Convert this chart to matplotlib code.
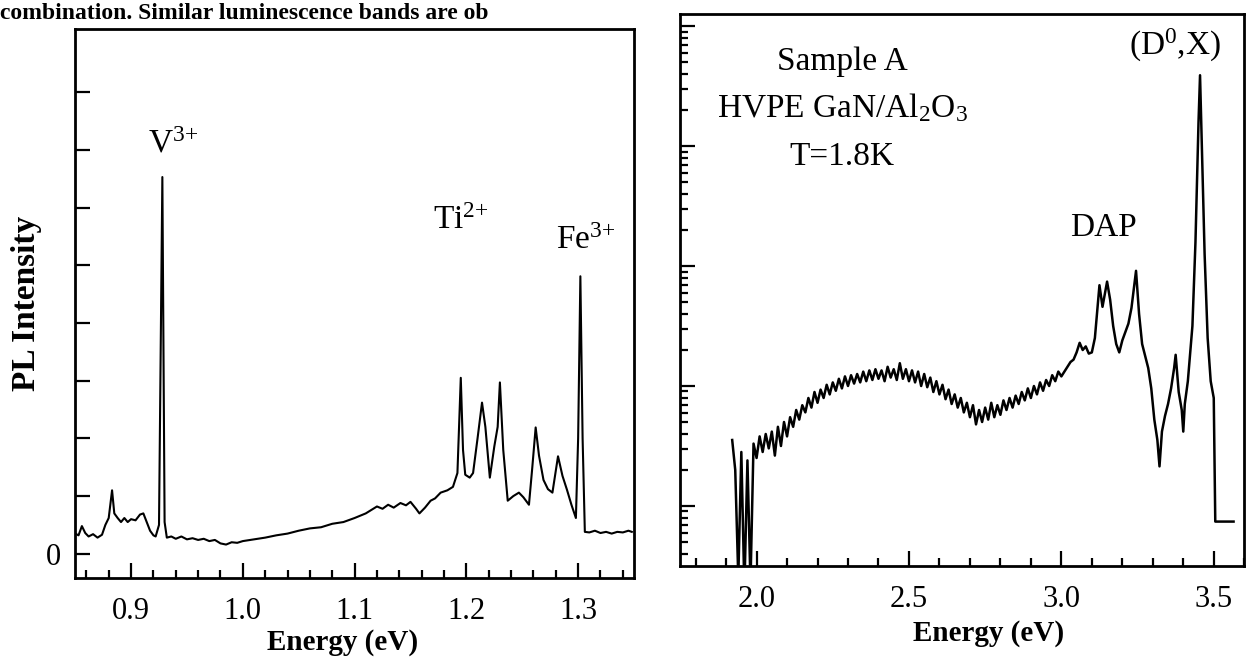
import numpy as np
import matplotlib
matplotlib.use("Agg")
import matplotlib.pyplot as plt
from matplotlib.ticker import LogLocator, MultipleLocator, NullFormatter

plt.rcParams['font.family'] = ['Liberation Serif', 'DejaVu Serif']
plt.rcParams['mathtext.fontset'] = 'custom'
plt.rcParams['mathtext.rm'] = 'Liberation Serif'
plt.rcParams['mathtext.it'] = 'Liberation Serif:italic'

# left panel: near-IR PL, transition-metal lines (arb. units, 0 = labelled tick)
e_left = [0.850, 0.853, 0.856, 0.859, 0.862, 0.866, 0.870, 0.874, 0.877, 0.880,
          0.883, 0.885, 0.888, 0.891, 0.894, 0.897, 0.900, 0.904, 0.908, 0.911,
          0.914, 0.917, 0.920, 0.922, 0.925, 0.928, 0.930, 0.932, 0.936, 0.940,
          0.945, 0.950, 0.955, 0.960, 0.965, 0.970, 0.975, 0.980, 0.985, 0.990,
          0.995, 1.000, 1.010, 1.020, 1.030, 1.040, 1.050, 1.060, 1.070, 1.080,
          1.090, 1.100, 1.110, 1.120, 1.125, 1.130, 1.135, 1.141, 1.146, 1.150,
          1.155, 1.158, 1.163, 1.168, 1.172, 1.177, 1.183, 1.188, 1.192, 1.195,
          1.197, 1.199, 1.203, 1.206, 1.210, 1.214, 1.217, 1.221, 1.225, 1.228,
          1.230, 1.233, 1.237, 1.242, 1.247, 1.251, 1.256, 1.259, 1.262, 1.265,
          1.269, 1.273, 1.277, 1.282, 1.286, 1.290, 1.294, 1.298, 1.300, 1.302,
          1.304, 1.306, 1.310, 1.315, 1.320, 1.325, 1.330, 1.335, 1.340, 1.345,
          1.348]
pl_left = [0.35, 0.32, 0.48, 0.36, 0.30, 0.34, 0.28, 0.33, 0.50, 0.62,
           1.10, 0.70, 0.62, 0.55, 0.62, 0.55, 0.60, 0.58, 0.68, 0.70,
           0.55, 0.40, 0.32, 0.30, 0.50, 6.53, 0.55, 0.28, 0.30, 0.26,
           0.30, 0.25, 0.27, 0.24, 0.26, 0.22, 0.24, 0.18, 0.16, 0.20,
           0.19, 0.22, 0.25, 0.28, 0.32, 0.35, 0.40, 0.44, 0.46, 0.52,
           0.55, 0.62, 0.70, 0.82, 0.78, 0.85, 0.80, 0.88, 0.84, 0.90,
           0.78, 0.70, 0.80, 0.92, 0.96, 1.06, 1.10, 1.16, 1.40, 3.05,
           1.80, 1.37, 1.32, 1.40, 2.00, 2.62, 2.20, 1.32, 1.86, 2.20,
           2.97, 1.80, 0.92, 1.00, 1.06, 0.98, 0.85, 1.50, 2.19, 1.70,
           1.28, 1.12, 1.06, 1.69, 1.35, 1.11, 0.85, 0.62, 2.00, 4.81,
           2.00, 0.38, 0.37, 0.40, 0.36, 0.38, 0.35, 0.38, 0.37, 0.40,
           0.38]

# right panel: GaN band-edge PL, log10 of intensity
e_band = np.round(np.arange(1.92, 3.005, 0.01), 3)
log_band = [0.55, 0.30, -0.60, 0.45, -0.70, 0.38, -0.65, 0.52, 0.40, 0.58,
            0.45, 0.60, 0.48, 0.62, 0.42, 0.66, 0.50, 0.70, 0.58, 0.74,
            0.66, 0.80, 0.72, 0.84, 0.78, 0.90, 0.82, 0.95, 0.86, 0.97,
            0.90, 1.01, 0.93, 1.03, 0.96, 1.06, 0.98, 1.08, 1.00, 1.09,
            1.02, 1.10, 1.03, 1.12, 1.04, 1.13, 1.05, 1.14, 1.06, 1.13,
            1.04, 1.16, 1.07, 1.14, 1.05, 1.19, 1.06, 1.14, 1.04, 1.13,
            1.03, 1.12, 1.00, 1.10, 0.99, 1.07, 0.95, 1.04, 0.93, 1.01,
            0.89, 0.97, 0.85, 0.93, 0.82, 0.90, 0.78, 0.86, 0.74, 0.84,
            0.68, 0.80, 0.70, 0.82, 0.72, 0.86, 0.74, 0.84, 0.76, 0.88,
            0.80, 0.90, 0.82, 0.92, 0.85, 0.95, 0.88, 0.98, 0.90, 1.00,
            0.93, 1.03, 0.96, 1.05, 1.00, 1.09, 1.04, 1.12, 1.08]
e_edge = [3.01, 3.02, 3.03, 3.04, 3.05, 3.06, 3.07, 3.08, 3.09, 3.10,
          3.11, 3.125, 3.135, 3.15, 3.16, 3.17, 3.18, 3.19, 3.20, 3.21,
          3.22, 3.23, 3.245, 3.255, 3.265, 3.275, 3.285, 3.295, 3.305, 3.315,
          3.322, 3.33, 3.34, 3.35, 3.36, 3.37, 3.375, 3.385, 3.395, 3.40,
          3.405, 3.415, 3.43, 3.44, 3.45, 3.455, 3.46, 3.47, 3.48, 3.49,
          3.50, 3.505, 3.565]
log_edge = [1.12, 1.16, 1.20, 1.22, 1.28, 1.36, 1.30, 1.33, 1.27, 1.28,
            1.40, 1.84, 1.66, 1.87, 1.72, 1.50, 1.35, 1.28, 1.38, 1.45,
            1.52, 1.65, 1.96, 1.60, 1.35, 1.25, 1.15, 0.98, 0.72, 0.55,
            0.33, 0.62, 0.75, 0.85, 0.98, 1.15, 1.26, 0.95, 0.80, 0.62,
            0.85, 1.04, 1.50, 2.20, 3.20, 3.59, 3.10, 2.10, 1.40, 1.04,
            0.90, -0.13, -0.13]

left_ticks = [0.9, 1.0, 1.1, 1.2, 1.3]
right_ticks = [2.0, 2.5, 3.0, 3.5]

fig = plt.figure(figsize=(12.53, 6.69), dpi=100)

# caption line from the page above the figure
fig.text(0.0, 0.972, "combination. Similar luminescence bands are ob",
         fontsize=17, fontweight='bold', va='baseline', ha='left')

ax1 = fig.add_axes([0.060, 0.136, 0.446, 0.821])
ax2 = fig.add_axes([0.543, 0.154, 0.450, 0.825])

ax1.plot(e_left, pl_left, color='black', lw=1.5)
ax1.set_xlim(0.85, 1.35)
ax1.set_ylim(-0.42, 9.1)
ax1.set_xticks(left_ticks)
ax1.set_xticklabels([f"{t:.1f}" for t in left_ticks])
ax1.xaxis.set_minor_locator(MultipleLocator(0.02))
ax1.set_yticks(range(9))
ax1.set_yticklabels(['0'] + [''] * 8)
ax1.set_ylabel("PL Intensity", fontsize=24, fontweight='bold')
ax1.yaxis.set_label_coords(-0.06, 0.50)
ax1.set_xlabel("Energy (eV)", fontsize=21, fontweight='bold')
ax1.xaxis.set_label_coords(0.479, -0.092)
ax1.text(0.9375, 6.96, "V$^{3{+}}$", fontsize=24, ha='center', va='baseline')
ax1.text(1.195, 5.63, "Ti$^{2{+}}$", fontsize=24, ha='center', va='baseline')
ax1.text(1.307, 5.28, "Fe$^{3{+}}$", fontsize=24, ha='center', va='baseline')

ax2.plot(np.concatenate([e_band, e_edge]),
         10 ** np.concatenate([log_band, log_edge]), color='black', lw=1.8)
ax2.set_yscale('log')
ax2.set_xlim(1.75, 3.6)
ax2.set_ylim(10 ** -0.5, 10 ** 4.1)
ax2.set_xticks(right_ticks)
ax2.set_xticklabels([f"{t:.1f}" for t in right_ticks])
ax2.xaxis.set_minor_locator(MultipleLocator(0.1))
ax2.yaxis.set_major_locator(LogLocator(base=10))
ax2.yaxis.set_minor_locator(LogLocator(base=10, subs=np.arange(2, 10)))
ax2.yaxis.set_major_formatter(NullFormatter())
ax2.yaxis.set_minor_formatter(NullFormatter())
ax2.set_xlabel("Energy (eV)", fontsize=21, fontweight='bold')
ax2.xaxis.set_label_coords(0.546, -0.098)
ax2.text(0.287, 0.899, "Sample A", fontsize=24, ha='center', va='baseline',
         transform=ax2.transAxes)
ax2.text(0.287, 0.813, "HVPE GaN/Al$_2$O$_3$", fontsize=24, ha='center',
         va='baseline', transform=ax2.transAxes)
ax2.text(0.287, 0.726, "T=1.8K", fontsize=24, ha='center', va='baseline',
         transform=ax2.transAxes)
ax2.text(3.138, 10 ** 2.25, "DAP", fontsize=24, ha='center', va='baseline')
ax2.text(3.374, 10 ** 3.76, "(D$^0$,X)", fontsize=24, ha='center', va='baseline')

for ax in (ax1, ax2):
    for s in ax.spines.values():
        s.set_linewidth(2)
    ax.tick_params(which='both', direction='in', top=False, right=False,
                   width=1.6, labelsize=22)
    ax.tick_params(which='major', length=11)
    ax.tick_params(which='minor', length=6)
ax1.tick_params(axis='x', which='major', pad=14)
ax1.tick_params(axis='y', which='major', pad=10)
ax2.tick_params(axis='x', which='major', pad=14)

fig.savefig("out.png", dpi=100)
